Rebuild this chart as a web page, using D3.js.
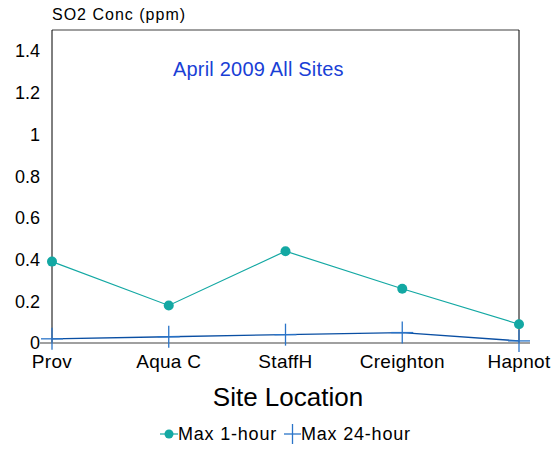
<!DOCTYPE html>
<html>
<head>
<meta charset="utf-8">
<script src="https://cdn.jsdelivr.net/npm/d3@7"></script>
<style>
  body { margin: 0; background: #fff; }
  text { font-family: "Liberation Sans", Arial, sans-serif; }
</style>
</head>
<body>
<svg id="chart" width="558" height="449"></svg>
<script>
// chart data
const sites = ["Prov", "Aqua C", "StaffH", "Creighton", "Hapnot"];
const max1hour = [0.39, 0.18, 0.44, 0.26, 0.09];
const max24hour = [0.02, 0.03, 0.04, 0.05, 0.01];
const yTicks = [0, 0.2, 0.4, 0.6, 0.8, 1, 1.2, 1.4];

const teal = "#13a8a3";
const navy = "#0a4fa3";
const plusBlue = "#2a74c8";

function drawChart() {
    const svg = d3.select("#chart");
    const left = 52, right = 519, top = 30, bottom = 343;

    const x = d3.scalePoint().domain(sites).range([left, right]).padding(0);
    const y = d3.scaleLinear().domain([0, 1.5]).range([bottom, top]);

    // frame
    svg.append("line").attr("x1", left).attr("x2", right).attr("y1", top).attr("y2", top)
        .attr("stroke", "#7f7f7f").attr("stroke-width", 1.5);
    svg.append("line").attr("x1", left).attr("x2", left).attr("y1", top).attr("y2", bottom)
        .attr("stroke", "#000");
    svg.append("line").attr("x1", right).attr("x2", right).attr("y1", top).attr("y2", bottom)
        .attr("stroke", "#000");
    svg.append("line").attr("x1", 40).attr("x2", 530).attr("y1", bottom).attr("y2", bottom)
        .attr("stroke", "#808080").attr("stroke-width", 1.5);

    // y tick labels
    svg.append("g").selectAll("text").data(yTicks).enter().append("text")
        .attr("x", 40).attr("y", d => y(d)).attr("dy", "0.36em")
        .attr("text-anchor", "end").attr("font-size", 18).attr("fill", "#000")
        .text(d => d);

    // x tick labels
    svg.append("g").selectAll("text").data(sites).enter().append("text")
        .attr("x", d => x(d)).attr("y", 368)
        .attr("text-anchor", "middle").attr("font-size", 19).attr("letter-spacing", 0.3)
        .attr("fill", "#000")
        .text(d => d);

    // Max 24-hour line
    const line24 = d3.line().x((d, i) => x(sites[i])).y(d => y(d));
    svg.append("path").datum(max24hour).attr("d", line24)
        .attr("fill", "none").attr("stroke", navy).attr("stroke-width", 1.3);
    const plus = svg.append("g").selectAll("g").data(max24hour).enter().append("g")
        .attr("transform", (d, i) => `translate(${x(sites[i])},${y(d)})`);
    plus.append("line").attr("x1", -11).attr("x2", 11).attr("stroke", plusBlue).attr("stroke-width", 1.3);
    plus.append("line").attr("y1", -11).attr("y2", 11).attr("stroke", plusBlue).attr("stroke-width", 1.3);

    // Max 1-hour line
    const line1 = d3.line().x((d, i) => x(sites[i])).y(d => y(d));
    svg.append("path").datum(max1hour).attr("d", line1)
        .attr("fill", "none").attr("stroke", teal).attr("stroke-width", 1.2);
    svg.append("g").selectAll("circle").data(max1hour).enter().append("circle")
        .attr("cx", (d, i) => x(sites[i])).attr("cy", d => y(d)).attr("r", 5)
        .attr("fill", teal);

    // titles
    svg.append("text").attr("x", 52).attr("y", 20).attr("font-size", 16).attr("letter-spacing", 1)
        .attr("fill", "#000").text("SO2 Conc (ppm)");
    svg.append("text").attr("x", 173).attr("y", 76).attr("font-size", 20).attr("letter-spacing", 0.2)
        .attr("fill", "#1a3fd6").text("April 2009 All Sites");
    svg.append("text").attr("x", 288).attr("y", 406).attr("text-anchor", "middle")
        .attr("font-size", 26).attr("fill", "#000").text("Site Location");

    // legend
    const lg = svg.append("g").attr("transform", "translate(0,434)");
    lg.append("line").attr("x1", 160).attr("x2", 178).attr("stroke", teal).attr("stroke-width", 1.2);
    lg.append("circle").attr("cx", 169).attr("cy", 0).attr("r", 4.5).attr("fill", teal);
    lg.append("text").attr("x", 178).attr("y", 0).attr("dy", "0.36em").attr("font-size", 18)
        .attr("letter-spacing", 0.8).text("Max 1-hour");
    lg.append("line").attr("x1", 284).attr("x2", 301).attr("stroke", plusBlue).attr("stroke-width", 1.3);
    lg.append("line").attr("x1", 292.5).attr("x2", 292.5).attr("y1", -10).attr("y2", 10).attr("stroke", plusBlue).attr("stroke-width", 1.3);
    lg.append("text").attr("x", 301).attr("y", 0).attr("dy", "0.36em").attr("font-size", 18)
        .attr("letter-spacing", 0.8).text("Max 24-hour");
}

drawChart();
</script>
</body>
</html>
